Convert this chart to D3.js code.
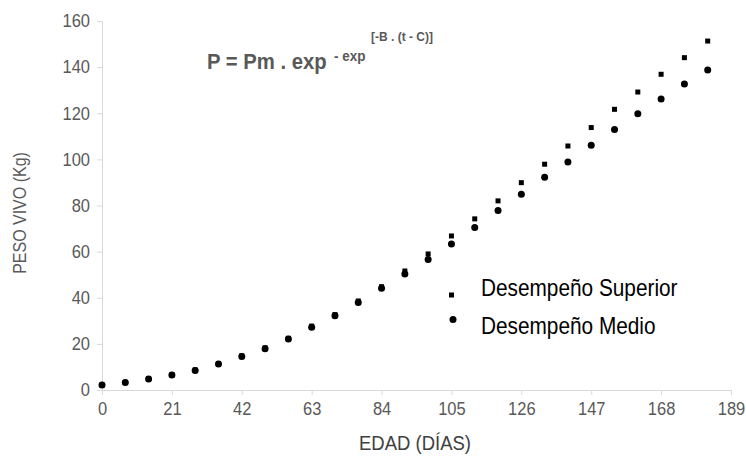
<!DOCTYPE html>
<html>
<head>
<meta charset="utf-8">
<script src="https://cdn.jsdelivr.net/npm/d3@7"></script>
<style>
  body { margin: 0; background: #fff; }
  svg text { font-family: "Liberation Sans", Arial, sans-serif; }
</style>
</head>
<body>
<div class="container"></div>
<script>
const w = 746
const h = 457

// Data: age in days, live weight in kg
const days = [0, 7, 14, 21, 28, 35, 42, 49, 56, 63, 70, 77, 84, 91, 98, 105, 112, 119, 126, 133, 140, 147, 154, 161, 168, 175, 182]
const superior = [2.3, 3.3, 4.9, 6.6, 8.7, 11.5, 14.8, 18.3, 22.4, 27.7, 32.7, 38.6, 44.8, 51.6, 59.0, 66.8, 74.2, 82.0, 89.9, 97.9, 105.8, 113.8, 121.7, 129.2, 136.9, 144.1, 151.3]
const medio = [2.2, 3.2, 4.8, 6.5, 8.5, 11.3, 14.5, 17.9, 22.1, 27.2, 32.2, 37.9, 44.1, 50.3, 56.6, 63.3, 70.5, 77.8, 84.9, 92.2, 98.9, 106.1, 112.9, 119.8, 126.2, 132.7, 138.8]
const xTicks = [0, 21, 42, 63, 84, 105, 126, 147, 168, 189]
const yTicks = [0, 20, 40, 60, 80, 100, 120, 140, 160]
const seriesNames = ['Desempeño Superior', 'Desempeño Medio']

const gray = '#595959'
const lineGray = '#d9d9d9'

const svg = d3.select('.container')
    .append('svg')
    .attr('width', w)
    .attr('height', h)

const xScale = d3.scaleLinear().domain([0, 189]).range([102, 731])
const yScale = d3.scaleLinear().domain([0, 160]).range([390, 21])

// y-axis
const yAxis = svg.append('g')
    .attr('transform', 'translate(' + xScale(0) + ', 0)')
    .call(d3.axisLeft(yScale).tickValues(yTicks).tickSize(5).tickPadding(7))
yAxis.select('.domain').attr('stroke', lineGray)
yAxis.selectAll('.tick line').attr('stroke', lineGray)
yAxis.selectAll('.tick text')
    .attr('fill', gray)
    .style('font-size', '16.5px')
    .attr('transform', 'scale(1,1.09)')

// x-axis
const xAxis = svg.append('g')
    .attr('transform', 'translate(0, ' + yScale(0) + ')')
    .call(d3.axisBottom(xScale).tickValues(xTicks).tickSize(5).tickPadding(7))
xAxis.select('.domain').attr('stroke', lineGray)
xAxis.selectAll('.tick line').attr('stroke', lineGray)
xAxis.selectAll('.tick text')
    .attr('fill', gray)
    .style('font-size', '16.5px')
    .attr('dy', null)
    .attr('y', 0)
    .attr('transform', 'translate(0,25) scale(1,1.09)')

// axis titles
svg.append('text')
    .text('PESO VIVO (Kg)')
    .attr('text-anchor', 'middle')
    .attr('fill', gray)
    .style('font-size', '16px')
    .attr('transform', 'translate(26, 213) rotate(-90) scale(1,1.09)')

svg.append('text')
    .text('EDAD (DÍAS)')
    .attr('text-anchor', 'middle')
    .attr('fill', '#404040')
    .style('font-size', '18.5px')
    .attr('transform', 'translate(415, 450) scale(1,1.1)')

// formula
const formula = svg.append('g').attr('fill', gray).style('font-weight', 'bold')
formula.append('text')
    .text('P = Pm . exp')
    .style('font-size', '20.3px')
    .attr('transform', 'translate(207, 69) scale(1,1.1)')
formula.append('text')
    .text('- exp')
    .style('font-size', '13.5px')
    .attr('transform', 'translate(334, 61) scale(1,1.1)')
formula.append('text')
    .text('[-B . (t - C)]')
    .style('font-size', '12px')
    .attr('transform', 'translate(371, 40.5) scale(1,1.1)')

// series: superior (squares)
svg.selectAll('rect.sup')
    .data(days)
    .enter()
    .append('rect')
    .attr('class', 'sup')
    .attr('x', (d, i) => xScale(d) - 2.5)
    .attr('y', (d, i) => yScale(superior[i]) - 2.5)
    .attr('width', 5)
    .attr('height', 5)
    .attr('fill', '#000')

// series: medio (circles)
svg.selectAll('circle.med')
    .data(days)
    .enter()
    .append('circle')
    .attr('class', 'med')
    .attr('cx', d => xScale(d))
    .attr('cy', (d, i) => yScale(medio[i]))
    .attr('r', 3.5)
    .attr('fill', '#000')

// legend
const legend = svg.append('g')
legend.append('rect')
    .attr('x', 449).attr('y', 292.5).attr('width', 5).attr('height', 5).attr('fill', '#000')
legend.append('circle')
    .attr('cx', 453).attr('cy', 319.5).attr('r', 3.5).attr('fill', '#000')
legend.selectAll('text')
    .data(seriesNames)
    .enter()
    .append('text')
    .text(d => d)
    .attr('fill', '#000')
    .style('font-size', '20.8px')
    .attr('transform', (d, i) => 'translate(481, ' + (i === 0 ? 296 : 334) + ') scale(1,1.13)')
</script>
</body>
</html>
